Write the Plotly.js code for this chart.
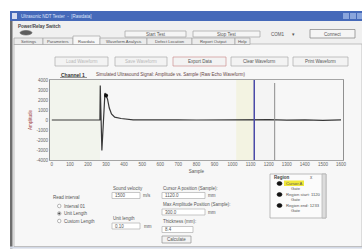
<!DOCTYPE html>
<html><head><meta charset="utf-8">
<script src="https://cdn.plot.ly/plotly-3.0.1.min.js"></script>
<style>html,body{margin:0;padding:0;background:#fff;}#chart{width:362px;height:250px;}</style>
</head><body><div id="chart"></div>
<script>
// ---- data ----
const samples   = [0, 100, 200, 266, 268, 277, 294, 300, 308, 318, 330, 348, 383, 450, 520, 600, 700, 800, 900, 1000, 1100, 1200, 1300, 1400, 1500, 1600];
const amplitude = [0, 0, 0, 0, 3450, -3050, 2700, 2450, 2100, 1200, 600, 280, 150, 20, 0, -20, 10, 0, 20, -10, 0, 30, -20, 20, -30, 10];
const peakSample = [300];
const peakAmplitude = [2450];
const cursorSamples = [1120, 1233];
const shadeStarts = [-10, 1020, 1120];
const shadeEnds = [267, 1120, 1233];
const xTickVals = [0,100,200,300,400,500,600,700,800,900,1000,1100,1200,1300,1400,1500,1600];
const xTickText = ['0','100','200','300','400','500','600','700','800','900','1000','1100','1200','1300','1400','1500','1600'];
const yTickVals = [-4000,-3000,-2000,-1000,0,1000,2000,3000,4000];
const yTickText = ['-4000','-3000','-2000','-1000','0','1000','2000','3000','4000'];
const tabLabels = ['Settings','Parameters','Rawdata','Waveform Analysis','Defect Location','Report Output','Help'];
const toolButtons = ['Load Waveform','Save Waveform','Export Data','Clear Waveform','Print Waveform'];
const radioLabels = ['Interval 01','Unit Length','Custom Length'];
const regionNames = ['Cursor A','Region start: 1120','Region end: 1233'];
const regionSubs = ['Gate','Gate','Gate'];

// ---- layout helpers ----
const L=50,R=343,T=80,B=160,W=R-L,H=B-T;
const px=x=>(x-L)/W, py=y=>(B-y)/H;
const FONT='Liberation Sans, Arial, sans-serif';
const TXT='#555';
const shapes=[], ann=[];
function rect(x0,y0,x1,y1,fill,line,lw){shapes.push({type:'rect',xref:'paper',yref:'paper',x0:px(x0),x1:px(x1),y0:py(y1),y1:py(y0),fillcolor:fill,line:{color:line||'rgba(0,0,0,0)',width:line?(lw||0.7):0},layer:'below'});}
function circ(x0,y0,x1,y1,fill,line){shapes.push({type:'circle',xref:'paper',yref:'paper',x0:px(x0),x1:px(x1),y0:py(y1),y1:py(y0),fillcolor:fill,line:{color:line||fill,width:0.6},layer:'above'});}
function txt(x,y,t,o){o=o||{};ann.push({xref:'paper',yref:'paper',x:px(x),y:py(y),text:t,showarrow:false,xanchor:o.anchor||'left',yanchor:'middle',font:{family:FONT,size:o.size||4.5,color:o.color||TXT,weight:o.bold?'bold':'normal'},borderpad:0});}

// window
rect(10,11,362,248.5,'#f0f0f0');
rect(10,11,362,21,'#4569b9');
rect(12,13,17,19,'#d6dcef');
txt(20,16,'Ultrasonic NDT Tester  -  [Rawdata]',{color:'#dfe6fb'});
rect(343,13,349,19,'#8aa5dc');rect(350,13,356,19,'#8aa5dc');rect(357,13,362,19,'#8aa5dc');
rect(10,21,12.5,248.5,'#6e6e6e');
rect(10,246.5,362,248.5,'#d3d9e6');
// top group
txt(17,27,'Power/Relay Switch',{bold:true,color:'#444'});
circ(20,30.5,32,35,'#5e5e5e');
rect(125,31,186,37,'#f5f5f5','#a0a0a0');txt(155.5,34,'Start Test',{anchor:'center'});
rect(193,31,260,37,'#f5f5f5','#a0a0a0');txt(226.5,34,'Stop Test',{anchor:'center'});
txt(270,34,'COM1');txt(293,34,'▾',{size:5,anchor:'center'});
rect(310,29.5,355,38,'#f5f5f5','#808080');txt(332.5,34,'Connect',{anchor:'center'});
// tabs
const tabX=[[14,43],[43,73],[73,100],[100,147],[147,192],[192,235],[235,250]];
rect(14,44,362,246.5,'#f7f7f7','#ababab');
tabX.forEach((t,i)=>{const act=i===2;rect(t[0],act?36:38,t[1],44.5,act?'#f7f7f7':'#ececec','#a5a5a5');txt((t[0]+t[1])/2,41,tabLabels[i],{anchor:'center',size:4.2});});
// tool buttons
const btnX=[[55,108],[115,167],[173,226],[231,288],[293,348]];
btnX.forEach((b,i)=>{rect(b[0],57,b[1],66,'#f3f3f3',i===2?'#cc9090':'#ababab');txt((b[0]+b[1])/2,61.5,toolButtons[i],{anchor:'center',color:i<2?'#b8b8b8':TXT});});
// chart header
txt(60,74.5,'Channel 1',{bold:true,size:5,color:'#333'});
shapes.push({type:'line',xref:'paper',yref:'paper',x0:px(60),x1:px(87),y0:py(77.5),y1:py(77.5),line:{color:'#555',width:0.6}});
txt(95,74,'Simulated Ultrasound Signal: Amplitude vs. Sample (Raw Echo Waveform)',{color:'#664444'});
// bottom controls
txt(52,197,'Read interval');
radioLabels.forEach((r,i)=>{const y=206+i*7.5;circ(57.5,y-1.8,61,y+1.8,'#fff','#888');if(i===1)circ(58.5,y-0.8,60,y+0.8,'#444');txt(63,y,r);});
txt(112,188,'Sound velocity');
rect(112,192.5,140,198.5,'#fff','#b0b0b0');txt(113.5,195.5,'1500');txt(142,195.5,'m/s');
txt(112,218,'Unit length');
rect(112,223,140,229,'#fff','#b0b0b0');txt(113.5,226,'0.10');txt(143,226,'mm');
txt(162,188,'Cursor A position (Sample):');
rect(162,192.5,205,198.5,'#fff','#b0b0b0');txt(163.5,195.5,'1120.0');txt(207,195.5,'mm');
txt(162,204,'Max Amplitude Position (Sample):');
rect(162,209,205,215,'#fff','#b0b0b0');txt(163.5,212,'300.0');txt(207,212,'mm');
txt(162,221,'Thickness (mm):');
rect(162,226.5,193,232.5,'#fff','#b0b0b0');txt(163.5,229.5,'8.4');
rect(162,236,191,243,'#f3f3f3','#909090');txt(176.5,239.5,'Calculate',{anchor:'center'});
// region list box
rect(270,174,326,218,'#fbfbfb','#a0a0a0');
rect(322,174,326,218,'#dcdcdc','#b0b0b0');
txt(273,177.5,'Region',{bold:true,color:'#444'});txt(309,177.5,'x');
rect(284,180.5,304,186,'#f0e83a');
regionNames.forEach((n,i)=>{const y=183.5+i*11;circ(277,y-2,282,y+2,'#111');txt(285,y,n,{size:4.2});txt(296,y+5.3,regionSubs[i],{anchor:'center',size:4.2});});

// plot-area shading and cursors (data coordinates)
shadeStarts.forEach((s,i)=>shapes.push({type:'rect',xref:'x',yref:'paper',x0:s,x1:shadeEnds[i],y0:0,y1:1,fillcolor:['#f2f4ed','#f3f3e2','#f4f4f4'][i],line:{width:0},layer:'below'}));
shapes.push({type:'line',xref:'x',yref:'paper',x0:cursorSamples[0],x1:cursorSamples[0],y0:0,y1:1,line:{color:'#4a4aa8',width:1.5}});
shapes.push({type:'line',xref:'x',yref:'paper',x0:cursorSamples[1],x1:cursorSamples[1],y0:0,y1:py(83),line:{color:'#8c8c8c',width:1}});

const traces=[
 {type:'scatter',mode:'lines',x:samples,y:amplitude,line:{color:'#383838',width:1.2},hoverinfo:'skip'},
 {type:'scatter',mode:'markers',x:peakSample,y:peakAmplitude,marker:{color:'#111',size:4},hoverinfo:'skip'}
];
const layout={
 width:362,height:250,margin:{l:L,r:362-R,t:T,b:250-B},
 paper_bgcolor:'#ffffff',plot_bgcolor:'#ececec',showlegend:false,
 font:{family:FONT,size:5,color:TXT},
 xaxis:{range:[-10,1611],tickvals:xTickVals,ticktext:xTickText,showgrid:false,zeroline:false,showline:true,linecolor:'#a5a5a5',linewidth:1,mirror:true,ticks:'',tickfont:{size:4.5,color:'#666'},title:{text:'Sample',font:{size:4.5,color:TXT},standoff:3}},
 yaxis:{range:[-4000,4000],tickvals:yTickVals,ticktext:yTickText,showgrid:false,zeroline:false,showline:true,linecolor:'#909090',linewidth:1,mirror:true,ticks:'',tickfont:{size:4.5,color:'#666'},title:{text:'Amplitude',font:{size:4.5,color:'#a04040'},standoff:4}},
 shapes:shapes,annotations:ann
};
Plotly.newPlot('chart',traces,layout,{displayModeBar:false,staticPlot:true});
</script></body></html>
